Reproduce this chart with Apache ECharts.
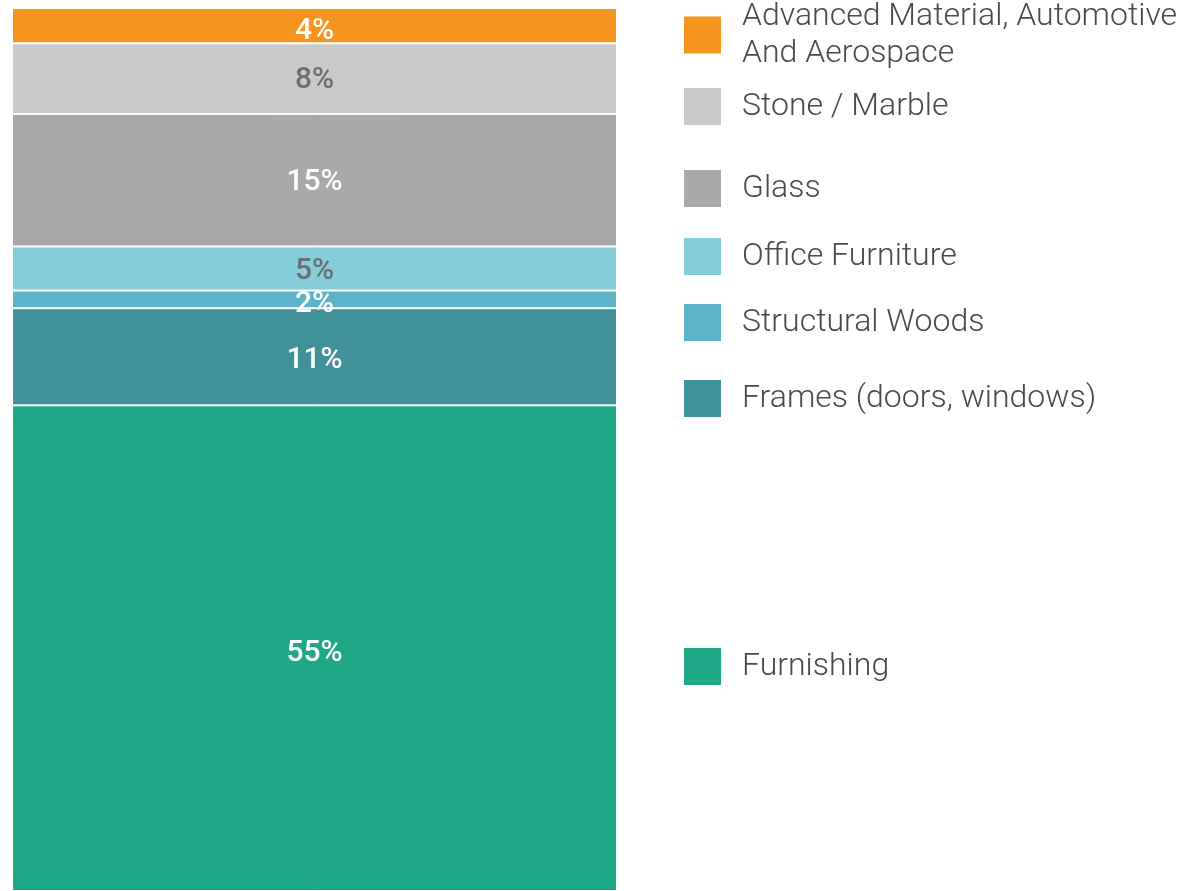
<!DOCTYPE html>
<html>
<head>
<meta charset="utf-8">
<style>
  html, body { margin: 0; padding: 0; background: #ffffff; }
  #chart { width: 1180px; height: 891px; }
</style>
<script src="https://cdn.jsdelivr.net/npm/echarts@6/dist/echarts.min.js"></script>
</head>
<body>
<div id="chart"></div>
<script>
// Share of use by segment, bottom of the stack first
const segments = [
  'Furnishing',
  'Frames (doors, windows)',
  'Structural Woods',
  'Office Furniture',
  'Glass',
  'Stone / Marble',
  'Advanced Material, Automotive And Aerospace'
];
const shares = [55, 11, 2, 5, 15, 8, 4];
const colors = ['#1ea888', '#40919a', '#5db3c8', '#84cedb', '#aaa8a9', '#c8c9cb', '#f7941d'];
const labelColors = ['#ffffff', '#ffffff', '#ffffff', '#6d6e71', '#ffffff', '#6d6e71', '#ffffff'];
const labelOffsets = [[0, 5], [0, 4], [0, 5], [0, 3], [0, 2], [0, 2], [0, 6]];
// Vertical placement of each legend entry (top of its swatch)
const legendTops = [646, 378, 302, 236, 168, 86, -2];

const chart = echarts.init(document.getElementById('chart'), null, { renderer: 'canvas' });

const series = segments.map((name, i) => ({
  name: name,
  type: 'bar',
  stack: 'total',
  barWidth: '100%',
  data: [shares[i]],
  itemStyle: { color: colors[i], borderColor: '#ffffff', borderWidth: 1 },
  label: {
    show: true,
    position: 'inside',
    formatter: '{c}%',
    fontFamily: 'Roboto',
    fontSize: 30,
    fontWeight: 500,
    color: labelColors[i],
    offset: labelOffsets[i]
  },
  emphasis: { disabled: true }
}));

const legends = segments.map((name, i) => ({
  data: [name],
  left: 682,
  top: legendTops[i],
  orient: 'vertical',
  padding: 0,
  itemWidth: 39,
  itemHeight: 39,
  icon: 'rect',
  selectedMode: false,
  formatter: n => n.replace('Automotive And', 'Automotive\nAnd'),
  textStyle: {
    fontFamily: 'Roboto',
    fontWeight: 300,
    fontSize: 32,
    lineHeight: 37,
    color: '#4a4a4a',
    padding: [0, 0, 0, 15]
  }
}));

chart.setOption({
  animation: false,
  backgroundColor: '#ffffff',
  grid: { left: 12, right: 563, top: 8, bottom: 0 },
  xAxis: {
    type: 'category',
    data: ['Share'],
    show: false
  },
  yAxis: {
    type: 'value',
    min: 0,
    max: 100,
    show: false
  },
  legend: legends,
  series: series
});
</script>
</body>
</html>
